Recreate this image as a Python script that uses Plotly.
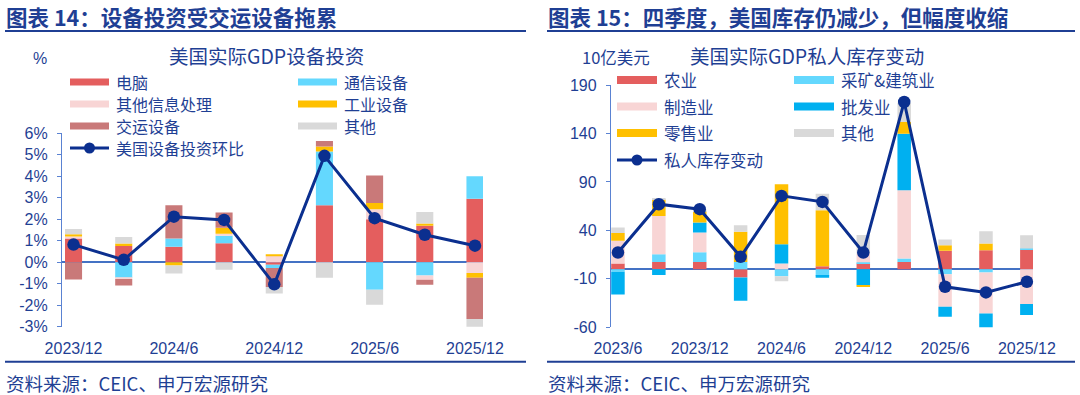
import plotly.graph_objects as go

W, H = 1080, 395

# ---------------- Chart 14: US real GDP equipment investment (contribution, %) ----------------
quarters_14 = ["2023/12", "2024/3", "2024/6", "2024/9", "2024/12", "2025/3", "2025/6", "2025/9", "2025/12"]
tick_labels_14 = ["2023/12", "2024/6", "2024/12", "2025/6", "2025/12"]
names_14 = ["电脑", "通信设备", "其他信息处理", "工业设备", "交运设备", "其他"]
computers = [1.10, 0.75, 0.72, 0.88, -0.12, 2.65, 2.00, 1.70, 2.95]
telecom = [0.00, -0.72, 0.38, 0.35, -0.15, 2.50, -1.28, -0.62, 1.05]
other_info = [0.10, -0.06, 0.00, 0.10, 0.30, 0.00, 0.46, -0.20, -0.50]
industrial = [0.10, 0.12, -0.15, 0.28, 0.05, 0.23, 0.30, 0.10, -0.22]
transport = [-0.80, -0.30, 1.55, 0.70, -0.88, 0.26, 1.28, -0.23, -1.92]
other_14 = [0.25, 0.30, -0.38, -0.35, -0.30, -0.72, -0.70, 0.54, -0.38]
equip_qoq = [0.82, 0.11, 2.12, 1.97, -1.03, 4.95, 2.05, 1.28, 0.77]
line_name_14 = "美国设备投资环比"
y_ticks_14 = [-3, -2, -1, 0, 1, 2, 3, 4, 5, 6]
y_ticktext_14 = [f"{v}%" for v in y_ticks_14]
colors_14 = ["#E45E5E", "#64D8FE", "#F8D5D5", "#FFC000", "#C97979", "#D9D9D9"]

# ---------------- Chart 15: US real GDP private inventory change (bn USD) ----------------
quarters_15 = ["2023/6", "2023/9", "2023/12", "2024/3", "2024/6", "2024/9", "2024/12",
               "2025/3", "2025/6", "2025/9", "2025/12"]
tick_labels_15 = ["2023/6", "2023/12", "2024/6", "2024/12", "2025/6", "2025/12"]
names_15 = ["农业", "采矿&建筑业", "制造业", "批发业", "零售业", "其他"]
agriculture = [5.8, 7.5, 7.5, -8.6, 0.0, 3.0, 5.8, 7.5, 18.9, 19.6, 20.3]
mining_constr = [-2.7, 7.9, 10.0, 7.5, -7.2, -6.9, 1.4, 3.4, -5.2, -3.4, 1.0]
manufacturing = [23.4, 39.5, 20.3, 0.0, 5.8, 0.0, 9.0, 70.4, -33.7, -42.3, -36.0]
wholesale = [-23.4, -6.0, 10.3, -24.0, 20.0, -2.0, -16.5, 58.4, -10.3, -15.8, -11.3]
retail = [8.2, 17.0, 11.7, 31.0, 61.9, 57.7, -1.7, 12.0, 5.8, 6.9, 0.0]
other_15 = [5.5, 1.0, 2.0, 6.9, -5.2, 17.2, 19.0, 20.0, 5.8, 12.7, 13.7]
inventory_change = [17.2, 67.0, 61.9, 12.7, 75.6, 69.4, 17.2, 172.5, -18.2, -24.0, -13.0]
line_name_15 = "私人库存变动"
y_ticks_15 = [-60, -10, 40, 90, 140, 190]
y_ticktext_15 = [str(v) for v in y_ticks_15]
colors_15 = ["#E45E5E", "#64D8FE", "#F8D5D5", "#00B0F0", "#FFC000", "#D9D9D9"]

# ---------------- styling ----------------
NAVY = "#0B2F8F"
TXT = "#1F3F94"
AXIS = "#5A82D2"
ZERO = "#4472C4"
CJK = "Noto Sans CJK SC"
NUM = "Liberation Sans"


def px(x):
    return x / W


def py(y):
    return 1 - y / H


fig = go.Figure()

series_14 = [computers, telecom, other_info, industrial, transport, other_14]
for name, vals, col in zip(names_14, series_14, colors_14):
    fig.add_trace(go.Bar(x=quarters_14, y=vals, name=name, marker=dict(color=col, line=dict(width=0)),
                         width=0.34, xaxis="x", yaxis="y", showlegend=False))
fig.add_trace(go.Scatter(x=quarters_14, y=equip_qoq, name=line_name_14, mode="lines+markers",
                         line=dict(color=NAVY, width=3), marker=dict(size=12.5, color=NAVY),
                         xaxis="x", yaxis="y", showlegend=False, cliponaxis=False))

series_15 = [agriculture, mining_constr, manufacturing, wholesale, retail, other_15]
for name, vals, col in zip(names_15, series_15, colors_15):
    fig.add_trace(go.Bar(x=quarters_15, y=vals, name=name, marker=dict(color=col, line=dict(width=0)),
                         width=0.33, xaxis="x2", yaxis="y2", showlegend=False))
fig.add_trace(go.Scatter(x=quarters_15, y=inventory_change, name=line_name_15, mode="lines+markers",
                         line=dict(color=NAVY, width=3), marker=dict(size=12.5, color=NAVY),
                         xaxis="x2", yaxis="y2", showlegend=False, cliponaxis=False))

xaxis_common = dict(type="category", showgrid=False, zeroline=False, showline=False, ticks="",
                    automargin=False, ticklabelstandoff=10,
                    tickfont=dict(family=NUM, size=16, color=TXT), fixedrange=True)
yaxis_common = dict(showgrid=False, zeroline=True, zerolinecolor=ZERO, zerolinewidth=1.6,
                    automargin=False,
                    showline=True, linecolor=AXIS, linewidth=1.3, ticks="outside", ticklen=4,
                    tickcolor=AXIS, tickwidth=1.3, ticklabelstandoff=6,
                    tickfont=dict(family=NUM, size=16, color=TXT), fixedrange=True)

fig.update_layout(
    template="none",
    width=W, height=H, autosize=False,
    margin=dict(l=0, r=0, t=0, b=0, pad=0),
    paper_bgcolor="white", plot_bgcolor="white",
    barmode="relative", showlegend=False,
    xaxis=dict(xaxis_common, domain=[px(62), px(483)], anchor="y", range=[-0.23, 8.16],
               tickvals=tick_labels_14, ticktext=tick_labels_14),
    yaxis=dict(yaxis_common, domain=[py(326.7), py(133.3)], anchor="x", range=[-3, 6],
               tickvals=y_ticks_14, ticktext=y_ticktext_14),
    xaxis2=dict(xaxis_common, domain=[px(611), px(1033)], anchor="y2", range=[-0.17, 10.15],
                tickvals=tick_labels_15, ticktext=tick_labels_15),
    yaxis2=dict(yaxis_common, domain=[py(327.3), py(85)], anchor="x2", range=[-60, 190],
                tickvals=y_ticks_15, ticktext=y_ticktext_15),
)

shapes = []
annotations = []


def text(x, y, s, size, family=CJK, xanchor="left", bold=False, color=TXT):
    annotations.append(dict(x=px(x), y=py(y), xref="paper", yref="paper", text=f"<b>{s}</b>" if bold else s,
                            showarrow=False, xanchor=xanchor, yanchor="middle",
                            font=dict(family=family, size=size, color=color)))


def hline(x0, x1, y, color, width):
    shapes.append(dict(type="line", xref="paper", yref="paper", x0=px(x0), x1=px(x1), y0=py(y), y1=py(y),
                       line=dict(color=color, width=width)))


# headers / footers
text(4, 16.5, "图表 14：设备投资受交运设备拖累", 21.5, bold=True)
text(546, 16.5, "图表 15：四季度，美国库存仍减少，但幅度收缩", 21.5, bold=True)
hline(5, 526, 31, TXT, 2)
hline(547, 1075, 31, TXT, 2)
hline(5, 526, 361.7, TXT, 2)
hline(547, 1075, 361.7, TXT, 2)
text(4, 383, "资料来源：CEIC、申万宏源研究", 18.5)
text(546, 383, "资料来源：CEIC、申万宏源研究", 18.5)

# chart titles / units
text(266, 56, "美国实际GDP设备投资", 19.5, xanchor="center")
text(40, 58, "%", 16, family=NUM, xanchor="center")
text(807, 56, "美国实际GDP私人库存变动", 19.5, xanchor="center")
text(616, 57, "10亿美元", 16.5, xanchor="center")


def legend(names, colors, col_x, text_dx, rows_y, line_name, sw_w, sw_h, fsize):
    for i, (name, col) in enumerate(zip(names, colors)):
        r, c = divmod(i, 2)
        x0 = col_x[c]
        y = rows_y[r]
        shapes.append(dict(type="rect", xref="paper", yref="paper", x0=px(x0), x1=px(x0 + sw_w),
                           y0=py(y + sw_h / 2), y1=py(y - sw_h / 2), fillcolor=col, line=dict(width=0)))
        text(x0 + sw_w + text_dx, y, name, fsize)
    y = rows_y[3]
    x0 = col_x[0]
    hline(x0, x0 + sw_w, y, NAVY, 3)
    cx = x0 + sw_w / 2
    rad = 5.5
    shapes.append(dict(type="circle", xref="paper", yref="paper", x0=px(cx - rad), x1=px(cx + rad),
                       y0=py(y + rad), y1=py(y - rad), fillcolor=NAVY, line=dict(width=0)))
    text(x0 + sw_w + text_dx, y, line_name, fsize)


legend(names_14, colors_14, [70, 298], 5, [82, 104, 126, 148], line_name_14, 39, 7, 16)
legend(names_15, colors_15, [617, 794], 5, [80, 106.5, 133, 160], line_name_15, 40, 8, 16.5)

fig.update_layout(shapes=shapes, annotations=annotations)
fig.write_html("out.html", config={"displayModeBar": False},
               post_script="document.body.style.margin='0';document.body.style.overflow='hidden';")
